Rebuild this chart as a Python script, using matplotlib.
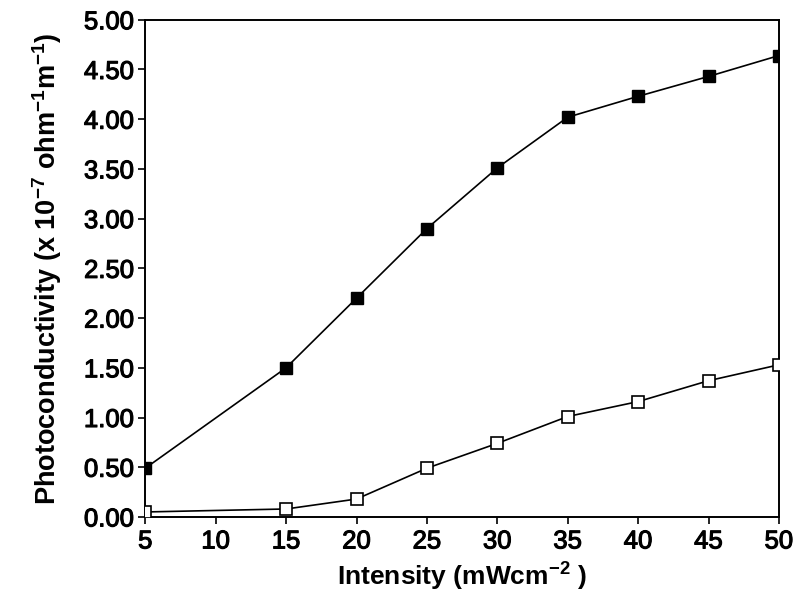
import matplotlib
matplotlib.use("Agg")
import matplotlib.pyplot as plt
import matplotlib.patheffects as pe

plt.rcParams['font.family'] = ['Liberation Sans', 'DejaVu Sans']
plt.rcParams['mathtext.fontset'] = 'custom'
plt.rcParams['mathtext.rm'] = 'Liberation Sans'
plt.rcParams['mathtext.bf'] = 'Liberation Sans:bold'
plt.rcParams['mathtext.default'] = 'bf'

# Photoconductivity vs light intensity
intensity = [5, 15, 20, 25, 30, 35, 40, 45, 50]
filled_vals = [0.49, 1.50, 2.20, 2.90, 3.51, 4.02, 4.23, 4.43, 4.64]
open_vals = [0.05, 0.08, 0.18, 0.49, 0.74, 1.01, 1.16, 1.37, 1.53]

x_ticks = [5, 10, 15, 20, 25, 30, 35, 40, 45, 50]
y_ticks = [0.0, 0.5, 1.0, 1.5, 2.0, 2.5, 3.0, 3.5, 4.0, 4.5, 5.0]

fig = plt.figure(figsize=(7.94, 5.99), dpi=100)
ax = fig.add_axes([0.183, 0.137, 0.798, 0.83])

ax.plot(intensity, filled_vals, color="black", linewidth=1.2, marker="s",
        markersize=8.5, markerfacecolor="black", markeredgecolor="black", zorder=3)
ax.plot(intensity, open_vals, color="black", linewidth=1.2, marker="s",
        markersize=8, markerfacecolor="white", markeredgecolor="black",
        markeredgewidth=1.2, zorder=3)

ax.set_xlim(5, 50)
ax.set_ylim(0, 5)
ax.set_xticks(x_ticks)
ax.set_yticks(y_ticks)
ax.set_yticklabels([f"{v:.2f}" for v in y_ticks])
ax.tick_params(direction="out", length=5, width=1.2, labelsize=18.5)
ax.tick_params(axis="x", pad=4)
ax.tick_params(axis="y", pad=3)
for s in ax.spines.values():
    s.set_linewidth(1.4)

# slightly heavier digits than the regular face
thick = [pe.withStroke(linewidth=0.8, foreground="black")]
for lbl in ax.get_xticklabels() + ax.get_yticklabels():
    lbl.set_path_effects(thick)

ax.set_xlabel("Intensity (mWcm$^{-2}$ )", fontsize=19, weight="bold", labelpad=5)
ax.set_ylabel("Photoconductivity (x 10$^{-7}$ ohm$^{-1}$m$^{-1}$)",
              fontsize=19.5, weight="bold", labelpad=14)

fig.savefig("out.png", dpi=100)
